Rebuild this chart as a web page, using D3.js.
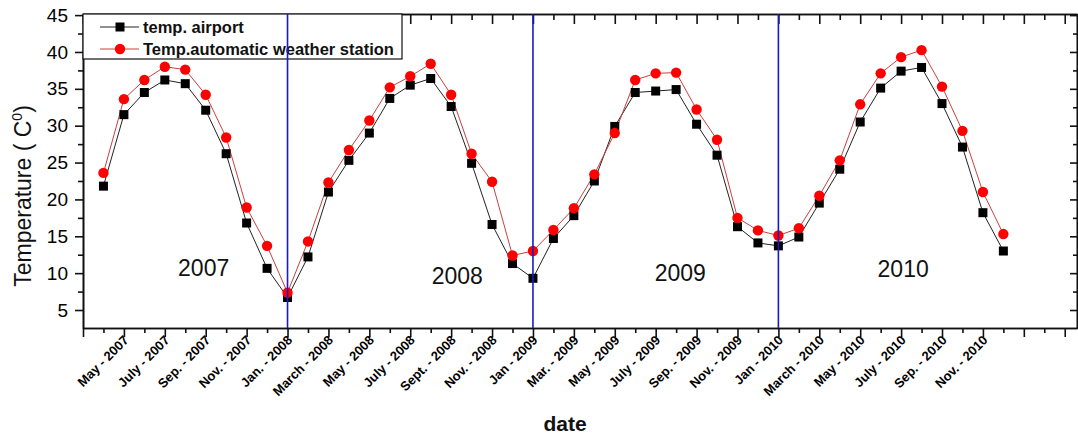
<!DOCTYPE html>
<html>
<head>
<meta charset="utf-8">
<script src="https://cdn.jsdelivr.net/npm/d3@7"></script>
<style>
  body { margin: 0; background: #fff; }
  svg { font-family: Arial, "Liberation Sans", sans-serif; }
</style>
</head>
<body>
<div id="chart"></div>
<script>
// monthly mean temperatures, April 2007 .. December 2010 (45 months)
const firstMonth = 1; // index 0 = March 2007 (left edge of the axis)
const airport = [21.8, 31.5, 34.5, 36.2, 35.7, 32.1, 26.2, 16.8, 10.65, 6.7,
  12.2, 21.0, 25.3, 29.0, 33.7, 35.5, 36.4, 32.6, 24.9, 16.6, 11.3, 9.3,
  14.7, 17.8, 22.5, 29.9, 34.5, 34.7, 34.9, 30.2, 26.0, 16.3, 14.1, 13.7,
  14.9, 19.5, 24.1, 30.5, 35.1, 37.4, 37.9, 33.0, 27.1, 18.2, 13.0];
const station = [23.6, 33.6, 36.2, 38.0, 37.6, 34.2, 28.4, 18.9, 13.7, 7.35,
  14.3, 22.3, 26.7, 30.7, 35.2, 36.7, 38.4, 34.2, 26.2, 22.4, 12.4, 13.0,
  15.85, 18.8, 23.4, 29.0, 36.2, 37.1, 37.2, 32.2, 28.1, 17.5, 15.8, 15.1,
  16.1, 20.5, 25.3, 32.9, 37.1, 39.3, 40.25, 35.3, 29.3, 21.0, 15.3];
const tickLabels = ["May - 2007", "July - 2007", "Sep. - 2007", "Nov. - 2007",
  "Jan. - 2008", "March - 2008", "May - 2008", "July - 2008", "Sept. - 2008",
  "Nov. - 2008", "Jan  -  2009", "Mar.  -  2009", "May - 2009", "July - 2009",
  "Sep. - 2009", "Nov. - 2009", "Jan - 2010", "March - 2010", "May - 2010",
  "July - 2010", "Sep. - 2010", "Nov. - 2010"];
const yearMarks = [10, 22, 34];          // January 2008, 2009, 2010
const yearLabels = [
  { year: "2007", m: 5.9, t: 9.6 },
  { year: "2008", m: 18.3, t: 8.5 },
  { year: "2009", m: 29.2, t: 8.9 },
  { year: "2010", m: 40.1, t: 9.5 }
];
const seriesNames = ["temp. airport", "Temp.automatic weather station"];

const width = 1078, height = 436;
const pLeft = 83, pRight = 1077, pTop = 14, pBottom = 328;

const svg = d3.select("#chart").append("svg")
  .attr("width", width).attr("height", height);

const x = d3.scaleLinear().domain([0, 48.6]).range([pLeft, pRight]);
const y = d3.scaleLinear().domain([2.56, 45.15]).range([pBottom, pTop]);

const majorX = d3.range(0, 49, 2), minorX = d3.range(1, 49, 2);
const majorY = d3.range(5, 46, 5), minorY = d3.range(7.5, 45, 5);

// bottom axis
svg.append("g").attr("transform", `translate(0,${pBottom})`)
  .call(d3.axisBottom(x).tickValues(minorX).tickSize(5).tickSizeOuter(0).tickFormat(""));
const bx = svg.append("g").attr("transform", `translate(0,${pBottom})`)
  .call(d3.axisBottom(x).tickValues(majorX).tickSize(9).tickSizeOuter(0)
    .tickFormat(d => tickLabels[d / 2 - 1] || ""));
bx.selectAll("text")
  .attr("text-anchor", "end").attr("dy", null).attr("y", null)
  .attr("transform", "translate(5,13) rotate(-45)")
  .style("font-size", "13px").style("font-weight", "bold").attr("fill", "#000");

// top axis, ticks inward
svg.append("g").attr("transform", `translate(0,${pTop})`)
  .call(d3.axisBottom(x).tickValues(minorX).tickSize(6).tickSizeOuter(0).tickFormat(""));
svg.append("g").attr("transform", `translate(0,${pTop})`)
  .call(d3.axisBottom(x).tickValues(majorX).tickSize(10).tickSizeOuter(0).tickFormat(""));

// left axis
svg.append("g").attr("transform", `translate(${pLeft},0)`)
  .call(d3.axisLeft(y).tickValues(minorY).tickSize(5).tickSizeOuter(0).tickFormat(""));
svg.append("g").attr("transform", `translate(${pLeft},0)`)
  .call(d3.axisLeft(y).tickValues(majorY).tickSize(8).tickSizeOuter(0).tickPadding(7))
  .selectAll("text").style("font-size", "19px").attr("fill", "#000");

// right axis, ticks inward
svg.append("g").attr("transform", `translate(${pRight},0)`)
  .call(d3.axisLeft(y).tickValues(minorY).tickSize(4).tickSizeOuter(0).tickFormat(""));
svg.append("g").attr("transform", `translate(${pRight},0)`)
  .call(d3.axisLeft(y).tickValues(majorY).tickSize(7).tickSizeOuter(0).tickFormat(""));

svg.selectAll(".domain, .tick line").attr("stroke", "#111").attr("stroke-width", 1.6);

// year labels
svg.selectAll(".yr").data(yearLabels).join("text")
  .attr("x", d => x(d.m)).attr("y", d => y(d.t))
  .attr("text-anchor", "middle").style("font-size", "23px").attr("fill", "#111")
  .text(d => d.year);

// series
const line = d3.line().x((d, i) => x(i + firstMonth)).y(d => y(d));
svg.append("path").datum(airport).attr("d", line)
  .attr("fill", "none").attr("stroke", "#222").attr("stroke-width", 1);
svg.append("path").datum(station).attr("d", line)
  .attr("fill", "none").attr("stroke", "#c84040").attr("stroke-width", 1);
svg.selectAll(".sq").data(airport).join("rect")
  .attr("x", (d, i) => x(i + firstMonth) - 4.5).attr("y", d => y(d) - 4.5)
  .attr("width", 9).attr("height", 9).attr("fill", "#000");
svg.selectAll(".dot").data(station).join("circle")
  .attr("cx", (d, i) => x(i + firstMonth)).attr("cy", d => y(d))
  .attr("r", 5.2).attr("fill", "#f00");

// legend
const lg = svg.append("g");
lg.append("rect").attr("x", pLeft).attr("y", pTop).attr("width", 319).attr("height", 45)
  .attr("fill", "#fff").attr("stroke", "#111").attr("stroke-width", 1.2);
seriesNames.forEach((name, i) => {
  const ly = pTop + 13 + i * 22;
  lg.append("line").attr("x1", 100).attr("x2", 139).attr("y1", ly).attr("y2", ly)
    .attr("stroke", i ? "#c84040" : "#222").attr("stroke-width", 1);
  if (i) lg.append("circle").attr("cx", 120).attr("cy", ly).attr("r", 5.2).attr("fill", "#f00");
  else lg.append("rect").attr("x", 115.5).attr("y", ly - 4.5).attr("width", 9).attr("height", 9).attr("fill", "#000");
  lg.append("text").attr("x", 143).attr("y", ly + 6)
    .style("font-size", "16.5px").style("font-weight", "bold").attr("fill", "#111").text(name);
});

// year separators
svg.selectAll(".sep").data(yearMarks).join("line")
  .attr("x1", d => x(d)).attr("x2", d => x(d)).attr("y1", pTop).attr("y2", pBottom)
  .attr("stroke", "#1a1ac8").attr("stroke-width", 1.6);

// axis titles
svg.append("text").attr("x", 565).attr("y", 431).attr("text-anchor", "middle")
  .style("font-size", "21px").style("font-weight", "bold").attr("fill", "#111").text("date");
const yt = svg.append("text").attr("transform", "translate(31,196) rotate(-90)")
  .attr("text-anchor", "middle").style("font-size", "23px").attr("fill", "#111");
yt.append("tspan").text("Temperature ( C");
yt.append("tspan").attr("dy", -9).style("font-size", "14px").text("0");
yt.append("tspan").attr("dy", 9).text(")");
</script>
</body>
</html>
